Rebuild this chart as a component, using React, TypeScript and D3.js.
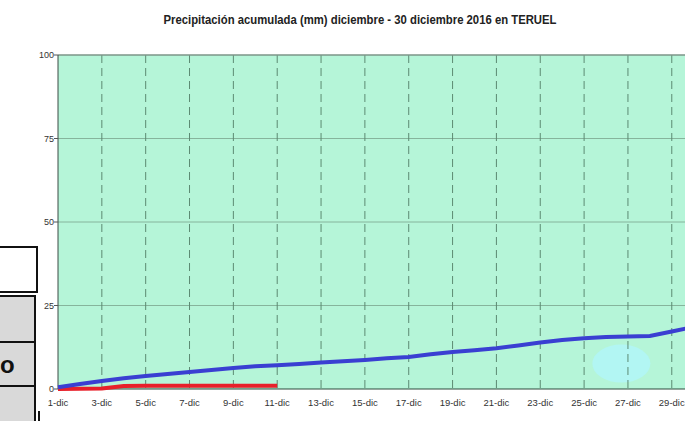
import React from "react";
import * as d3 from "d3";

// cumulative precipitation, mm
const days = [1, 2, 3, 4, 5, 6, 7, 8, 9, 10, 11, 12, 13, 14, 15, 16, 17, 18, 19, 20, 21, 22, 23, 24, 25, 26, 27, 28, 29, 30];
const acumulada = [0.5, 1.5, 2.4, 3.2, 3.9, 4.5, 5.1, 5.7, 6.3, 6.8, 7.1, 7.5, 7.9, 8.3, 8.7, 9.2, 9.6, 10.4, 11.1, 11.6, 12.2, 13.0, 13.9, 14.7, 15.2, 15.6, 15.7, 15.9, 17.2, 18.6];
const redDays = [1, 2, 3, 4, 5, 6, 7, 8, 9, 10, 11];
const redValues = [0, 0.05, 0.15, 0.9, 0.95, 1.0, 1.0, 1.0, 1.0, 1.0, 1.0];

const tickDays = [1, 3, 5, 7, 9, 11, 13, 15, 17, 19, 21, 23, 25, 27, 29];
const tickLabels = ["1-dic", "3-dic", "5-dic", "7-dic", "9-dic", "11-dic", "13-dic", "15-dic", "17-dic", "19-dic", "21-dic", "23-dic", "25-dic", "27-dic", "29-dic"];
const yTicks = [0, 25, 50, 75, 100];

const W = 685;
const H = 421;
const narrow = "'Liberation Sans Narrow', 'Arial Narrow', 'Liberation Sans', sans-serif";

export default function App() {
  const x = d3.scaleLinear().domain([1, 30]).range([58, 693.7]);
  const y = d3.scaleLinear().domain([0, 100]).range([389, 55]);

  const line = d3
    .line<number>()
    .x((_, i) => x(days[i]))
    .y((d) => y(d));
  const redLine = d3
    .line<number>()
    .x((_, i) => x(redDays[i]))
    .y((d) => y(d));

  const [x0, x1] = x.range();
  const [yb, yt] = y.range();

  return (
    <svg width={W} height={H} style={{ position: "absolute", left: 0, top: 0, background: "#fff" }}>
      <text
        x={360}
        y={24}
        textAnchor="middle"
        fontFamily="'Liberation Sans', Arial, sans-serif"
        fontWeight="bold"
        fontSize={12.5}
        fill="#222"
        textLength={393}
        lengthAdjust="spacingAndGlyphs"
      >
        Precipitación acumulada (mm) diciembre - 30 diciembre 2016 en TERUEL
      </text>

      {/* plot area */}
      <rect x={x0} y={yt} width={x1 - x0} height={yb - yt} fill="#b5f5d8" />
      <ellipse cx={x(26.7)} cy={y(7.6)} rx={29} ry={19} fill="#b2f6f3" />

      {yTicks.slice(1, -1).map((t) => (
        <line key={t} x1={x0} x2={x1} y1={y(t)} y2={y(t)} stroke="#86b49c" strokeWidth={1} />
      ))}
      {tickDays.slice(1).map((d) => (
        <line key={d} x1={x(d)} x2={x(d)} y1={yt} y2={yb} stroke="#5c8a72" strokeWidth={1} strokeDasharray="8 5" />
      ))}
      <line x1={x0} x2={x1} y1={yt} y2={yt} stroke="#7d9488" strokeWidth={1.5} />
      <line x1={x0} x2={x0} y1={yt} y2={yb} stroke="#3c4a44" strokeWidth={1} />
      <line x1={x0} x2={x1} y1={yb} y2={yb} stroke="#2e4a3c" strokeWidth={1.2} />

      {yTicks.map((t) => (
        <g key={t}>
          <line x1={x0 - 4} x2={x0} y1={y(t)} y2={y(t)} stroke="#555" />
          <text x={x0 - 4} y={y(t) + 3} textAnchor="end" fontFamily={narrow} fontSize={9} fill="#333">
            {t}
          </text>
        </g>
      ))}
      {tickDays.map((d, i) => (
        <text key={d} x={x(d)} y={406} textAnchor="middle" fontFamily={narrow} fontSize={9.5} fill="#333">
          {tickLabels[i]}
        </text>
      ))}

      <path d={redLine(redValues) ?? ""} fill="none" stroke="#e8202a" strokeWidth={4} />
      <path d={line(acumulada) ?? ""} fill="none" stroke="#3a3fd2" strokeWidth={4} />

      {/* cut-off table on the left */}
      <path d="M0,247 H37 V292 H0" fill="#fff" stroke="#111" strokeWidth={2} />
      <rect x={-2} y={296} width={37} height={130} fill="#d9d9d9" stroke="#111" strokeWidth={2} />
      <line x1={0} x2={35} y1={342} y2={342} stroke="#111" strokeWidth={2} />
      <line x1={0} x2={35} y1={386} y2={386} stroke="#111" strokeWidth={2} />
      <text x={0} y={373} fontFamily="'Liberation Sans', Arial, sans-serif" fontWeight="bold" fontSize={24} fill="#111">
        o
      </text>
      <line x1={39} x2={39} y1={411} y2={421} stroke="#111" strokeWidth={2} />
    </svg>
  );
}
